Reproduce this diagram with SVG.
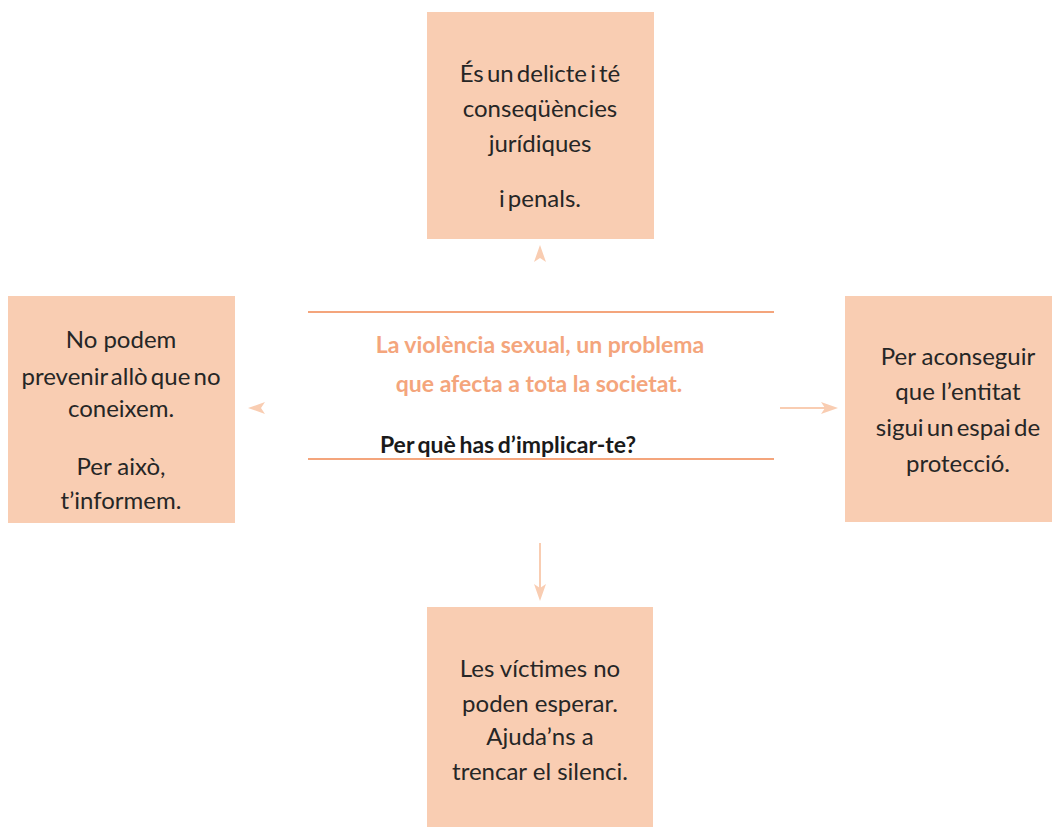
<svg xmlns="http://www.w3.org/2000/svg" width="1058" height="827" viewBox="0 0 1058 827">
<style>
.box{fill:#F9CDB2}
.t{font-family:Lato,"Liberation Sans",sans-serif;font-size:24px;fill:#262626;text-anchor:middle}
.tight{word-spacing:-3px}
.title{font-family:Lato,"Liberation Sans",sans-serif;font-size:23px;font-weight:bold;fill:#F4A57C;text-anchor:middle}
.q{font-family:Lato,"Liberation Sans",sans-serif;font-size:23px;font-weight:bold;fill:#1a1a1a;text-anchor:middle;word-spacing:-2px}
.rule{stroke:#F4A57C;stroke-width:2}
.conn{stroke:#F9CDB2;stroke-width:2;fill:none}
.head{fill:#F9CDB2}
</style>
<rect width="1058" height="827" fill="#fff"/>
<g id="center">
<line class="rule" x1="308" y1="312" x2="774" y2="312"/>
<line class="rule" x1="308" y1="459" x2="774" y2="459"/>
<text class="title" x="540" y="353">La violència sexual, un problema</text>
<text class="title" x="539" y="392">que afecta a tota la societat.</text>
<text class="q" x="508" y="453">Per què has d’implicar-te?</text>
</g>
<g id="top">
<rect class="box" x="427" y="12" width="227" height="227"/>
<text class="t tight" x="540" y="82">És un delicte i té</text>
<text class="t" x="540" y="117">conseqüències</text>
<text class="t" x="540" y="152">jurídiques</text>
<text class="t tight" x="540" y="207">i penals.</text>
</g>
<g id="left">
<rect class="box" x="8" y="296" width="227" height="227"/>
<text class="t" x="121" y="348">No podem</text>
<text class="t tight" x="121" y="385">prevenir allò que no</text>
<text class="t" x="121" y="417">coneixem.</text>
<text class="t" x="121" y="475">Per això,</text>
<text class="t" x="121" y="509">t’informem.</text>
</g>
<g id="right">
<rect class="box" x="845" y="296" width="207" height="226"/>
<text class="t" x="958" y="365">Per aconseguir</text>
<text class="t" x="958" y="400">que l’entitat</text>
<text class="t tight" x="958" y="436">sigui un espai de</text>
<text class="t" x="958" y="472">protecció.</text>
</g>
<g id="bottom">
<rect class="box" x="427" y="607" width="226" height="220"/>
<text class="t" x="540" y="677">Les víctimes no</text>
<text class="t" x="540" y="712">poden esperar.</text>
<text class="t" x="540" y="745">Ajuda’ns a</text>
<text class="t" x="540" y="780">trencar el silenci.</text>
</g>
<g id="connectors">
<path class="head" d="M540,245 L546,262 L540,258 L534,262 Z"/>
<path class="head" d="M248,408 L265,402 L261,408 L265,414 Z"/>
<line class="conn" x1="780" y1="408" x2="832" y2="408"/>
<path class="head" d="M838,408 L821,402 L825,408 L821,414 Z"/>
<line class="conn" x1="540" y1="543" x2="540" y2="595"/>
<path class="head" d="M540,601 L534,584 L540,588 L546,584 Z"/>
</g>
</svg>
